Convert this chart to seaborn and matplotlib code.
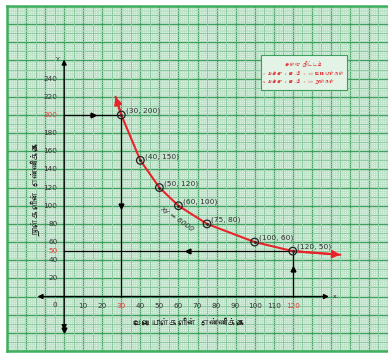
import numpy as np
import pandas as pd
import seaborn as sns
import matplotlib
matplotlib.use("Agg")
import matplotlib.pyplot as plt
from matplotlib import font_manager
from matplotlib.ft2font import FT2Font

# ---------------- data ----------------
workers = [30, 40, 50, 60, 75, 100, 120]
days = [200, 150, 120, 100, 80, 60, 50]
curve_x = [27, 30, 40, 50, 60, 75, 100, 120, 145]
curve_y = [220, 200, 150, 120, 100, 80, 60, 50, 46]
x_ticks = [10, 20, 30, 40, 50, 60, 70, 80, 90, 100, 110, 120]
y_ticks = [20, 40, 60, 80, 100, 120, 140, 160, 180, 200, 220, 240]
red_x = [30, 120]
red_y = [200, 50]
point_labels = ["(30, 200)", "(40, 150)", "(50, 120)", "(60, 100)",
                "(75, 80)", "(100, 60)", "(120, 50)"]
x_label = "வேலையாள்களின் எண்ணிக்கை"
y_label = "நாள்களின் எண்ணிக்கை"
scale_title = "அளவு திட்டம்"
scale_lines = ["x அச்சு 1 செ.மீ = 10 வேலையாள்கள்",
               "y அச்சு 1 செ.மீ = 20 நாள்கள்"]
curve_label = "xy = 6000"

# ---------------- fonts ----------------
tamil_family = None
for f in font_manager.fontManager.ttflist:
    try:
        cm = FT2Font(f.fname).get_charmap()
        if ord("த") in cm:
            tamil_family = f.name
            break
    except Exception:
        pass

sns.set_theme(style="white")
fams = ([tamil_family] if tamil_family else []) + ["DejaVu Sans"]
plt.rcParams["font.family"] = fams

# ---------------- figure ----------------
W, H = 388, 354
fig = plt.figure(figsize=(W / 100, H / 100), dpi=100, facecolor="white")
ax = fig.add_axes([7 / W, 3 / H, (W - 7) / W, (351 - 6) / H])
ax.set_facecolor("#dcf1e2")

def px2x(p):
    return (p - 63) / 1.94

def px2y(p):
    return (297 - p) / 0.965

x0, x1 = px2x(7), px2x(388)
y0, y1 = px2y(351), px2y(6)
ax.set_xlim(x0, x1)
ax.set_ylim(y0, y1)

# graph paper grid
ax.set_xticks(np.arange(-30, 171, 10))
ax.set_yticks(np.arange(-60, 321, 20))
ax.set_xticks(np.arange(-30, 171, 1), minor=True)
ax.set_yticks(np.arange(-60, 321, 2), minor=True)
ax.grid(which="minor", color="#b6dec1", linewidth=0.45)
ax.grid(which="major", color="#3f9f5e", linewidth=1.0)
for v in np.arange(-25, 171, 10):
    ax.axvline(v, color="#8ccaa0", linewidth=0.7, zorder=0.6)
for v in np.arange(-50, 321, 20):
    ax.axhline(v, color="#8ccaa0", linewidth=0.7, zorder=0.6)
ax.set_axisbelow(True)
ax.tick_params(which="both", length=0, labelbottom=False, labelleft=False)
for s in ["left", "top", "bottom"]:
    ax.spines[s].set_color("#3fae5f")
    ax.spines[s].set_linewidth(1.8)
ax.spines["right"].set_visible(False)

# axes lines with arrows
ax.annotate("", xy=(139, 0), xytext=(-14, 0),
            arrowprops=dict(arrowstyle="<|-|>", color="black", lw=1.0,
                            mutation_scale=7, shrinkA=0, shrinkB=0))
ax.annotate("", xy=(0, 261), xytext=(0, -37),
            arrowprops=dict(arrowstyle="<|-|>", color="black", lw=1.0,
                            mutation_scale=7, shrinkA=0, shrinkB=0))
ax.text(-2.5, 261, "Y", fontsize=4.5, ha="right", va="center", family="DejaVu Sans")
ax.text(141, 0, "x", fontsize=4.5, ha="left", va="center", family="DejaVu Sans")

# tick labels
for v in x_ticks:
    ax.text(v, -10.5, str(v), fontsize=5.2, ha="center", va="center",
            color="#e23b3b" if v in red_x else "#333333", family="DejaVu Sans")
for v in y_ticks + [50]:
    ax.text(-3.5, v, str(v), fontsize=5.2, ha="right", va="center",
            color="#e23b3b" if v in red_y else "#333333", family="DejaVu Sans")
ax.text(-3.5, -9, "0", fontsize=5.2, ha="right", va="center", color="#333333",
        family="DejaVu Sans")

# guide lines
ax.plot([0, workers[0]], [days[0], days[0]], color="black", lw=0.9)
ax.plot([workers[0], workers[0]], [0, days[0]], color="black", lw=0.9)
ax.plot([0, workers[-1]], [days[-1], days[-1]], color="black", lw=0.9)
ax.plot([workers[-1], workers[-1]], [0, days[-1]], color="black", lw=0.9)
ax.plot([15], [200], marker=">", color="black", markersize=3.5)
ax.plot([30], [100], marker="v", color="black", markersize=3.5)
ax.plot([65], [50], marker="<", color="black", markersize=3.5)
ax.plot([120], [30], marker="^", color="black", markersize=3.5)
ax.plot([0], [-37], marker="v", color="black", markersize=3.5)

# curve
df = pd.DataFrame({"x": curve_x, "y": curve_y})
sns.lineplot(data=df, x="x", y="y", ax=ax, color="#e8242a", lw=1.5,
             sort=False, estimator=None, zorder=3)
ax.annotate("", xy=(curve_x[0], curve_y[0]), xytext=(curve_x[1], curve_y[1]),
            arrowprops=dict(arrowstyle="-|>", color="#e8242a", lw=1.5,
                            mutation_scale=11, shrinkA=0, shrinkB=0), zorder=4)
ax.annotate("", xy=(curve_x[-1], curve_y[-1]), xytext=(curve_x[-2], curve_y[-2]),
            arrowprops=dict(arrowstyle="-|>", color="#e8242a", lw=1.5,
                            mutation_scale=11, shrinkA=0, shrinkB=0), zorder=4)

# points
pts = pd.DataFrame({"x": workers, "y": days})
sns.scatterplot(data=pts, x="x", y="y", ax=ax, s=30, facecolor="none",
                edgecolor="#222222", linewidth=0.9, zorder=5)
sns.scatterplot(data=pts, x="x", y="y", ax=ax, s=4, color="#222222",
                linewidth=0, zorder=6)
for (xv, yv, lab) in zip(workers, days, point_labels):
    ax.text(xv + 2.3, yv + 4.5, lab, fontsize=5.4, ha="left", va="center",
            color="#333333", family="DejaVu Sans", zorder=6)

ax.text(59, 86, curve_label, fontsize=5.4, rotation=-35, ha="center",
        va="center", color="#333333", family="DejaVu Sans", style="italic")

# axis titles
ax.text(px2x(190), px2y(325), x_label, fontsize=6.5, ha="center", va="center",
        color="#222222", fontweight="bold")
ax.text(px2x(33), px2y(182), y_label, fontsize=6.5, ha="center", va="center",
        rotation=90, color="#222222", fontweight="bold")

# scale box
bx0, bx1 = px2x(263), px2x(351)
by0, by1 = px2y(77), px2y(40)
ax.add_patch(plt.Rectangle((bx0, by0), bx1 - bx0, by1 - by0,
                           facecolor="#e3f4e7", edgecolor="#3f9e5d", lw=0.8,
                           zorder=4))
ax.text((bx0 + bx1) / 2, px2y(50), scale_title, fontsize=3.6, ha="center",
        va="center", color="#e23b3b", zorder=5)
for i, line in enumerate(scale_lines):
    ax.text(bx0 + 1.5, px2y(59 + 9 * i), line, fontsize=3.4, ha="left",
            va="center", color="#e23b3b", zorder=5)

ax.set_xlabel("")
ax.set_ylabel("")
fig.savefig("out.png", dpi=100, facecolor="white")
